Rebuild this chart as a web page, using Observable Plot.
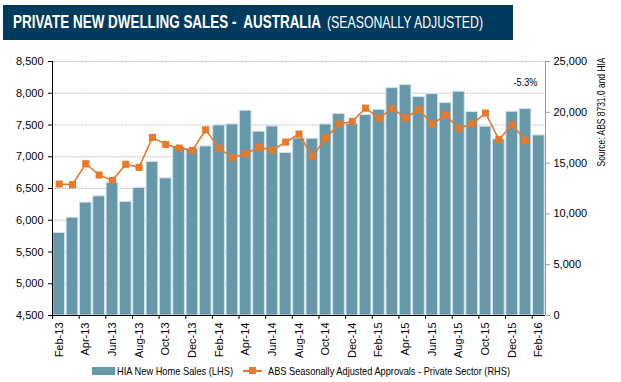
<!DOCTYPE html>
<html><head><meta charset="utf-8">
<script src="https://cdn.jsdelivr.net/npm/d3@7"></script>
<script src="https://cdn.jsdelivr.net/npm/@observablehq/plot@0.6"></script>
<style>
html,body{margin:0;padding:0;background:#fff;}
body{position:relative;width:621px;height:382px;overflow:hidden;font-family:"Liberation Sans",Arial,sans-serif;}
#banner{position:absolute;left:3px;top:5px;width:510px;height:35px;background:#003a5c;}
.tt{position:absolute;white-space:nowrap;color:#fff;line-height:19px;transform-origin:0 0;display:inline-block;}
#t1{left:10px;top:7px;font-size:19px;font-weight:bold;}
#t2{left:324px;top:8px;font-size:17px;}
#chart{position:absolute;left:0;top:45px;}
.lg{position:absolute;white-space:nowrap;font-size:11px;line-height:11px;color:#000;transform-origin:0 0;display:inline-block;}
#sw1{position:absolute;left:92px;top:367px;width:23px;height:8px;background:#6798a9;}
#sw2{position:absolute;left:243px;top:370px;width:19px;height:2px;background:#e8792a;}
#sw2m{position:absolute;left:249px;top:367px;width:7px;height:7px;background:#e8792a;}
</style></head><body>
<div id="banner"><span class="tt" id="t1">PRIVATE NEW DWELLING SALES -&nbsp; AUSTRALIA</span><span class="tt" id="t2">(SEASONALLY ADJUSTED)</span></div>
<div id="chart"></div>
<div id="sw1"></div><span class="lg" id="l1" style="left:117px;top:366px">HIA New Home Sales (LHS)</span>
<div id="sw2"></div><div id="sw2m"></div><span class="lg" id="l2" style="left:268px;top:366px">ABS Seasonally Adjusted Approvals - Private Sector (RHS)</span>
<script>
const months = ["Feb-13","Mar-13","Apr-13","May-13","Jun-13","Jul-13","Aug-13","Sep-13","Oct-13","Nov-13","Dec-13","Jan-14",
"Feb-14","Mar-14","Apr-14","May-14","Jun-14","Jul-14","Aug-14","Sep-14","Oct-14","Nov-14","Dec-14","Jan-15",
"Feb-15","Mar-15","Apr-15","May-15","Jun-15","Jul-15","Aug-15","Sep-15","Oct-15","Nov-15","Dec-15","Jan-16","Feb-16"];
const hiaSales = [5800,6040,6278,6377,6592,6288,6509,6918,6660,7153,7127,7163,7493,7509,7725,7394,7478,7059,7289,7284,
7509,7673,7515,7657,7740,8081,8128,7940,7987,7845,8024,7704,7473,7273,7709,7751,7336];
const absApprovals = [12940,12880,14940,13830,13300,14880,14580,17530,16840,16480,16250,18280,16450,15530,15930,16550,16290,17070,
17860,15660,17430,18840,19100,20410,19430,20380,19460,20280,18840,19730,18410,18870,19920,17330,18780,17200];
const leftTicks = [4500,5000,5500,6000,6500,7000,7500,8000,8500];
const rightTicks = [0,5000,10000,15000,20000,25000];
const tickMonths = ["Feb-13","Apr-13","Jun-13","Aug-13","Oct-13","Dec-13","Feb-14","Apr-14","Jun-14","Aug-14","Oct-14","Dec-14",
"Feb-15","Apr-15","Jun-15","Aug-15","Oct-15","Dec-15","Feb-16"];
const annotation = "-5.3%";
const sourceText = "Source: ABS 8731.0 and HIA";

const LEFT = [leftTicks[0], leftTicks[leftTicks.length-1]];
const RIGHT = [rightTicks[0], rightTicks[rightTicks.length-1]];
const toLeft = v => LEFT[0] + (v - RIGHT[0]) / (RIGHT[1] - RIGHT[0]) * (LEFT[1] - LEFT[0]);
const fromLeft = v => RIGHT[0] + (v - LEFT[0]) / (LEFT[1] - LEFT[0]) * (RIGHT[1] - RIGHT[0]);
const bars = months.map((m, i) => ({i, m, v: hiaSales[i]}));
const line = absApprovals.map((v, i) => ({i, v: toLeft(v)}));
const tickIdx = tickMonths.map(m => months.indexOf(m));
const fmt = d3.format(",");
const N = months.length;
const orange = "#e8792a";

const chart = Plot.plot({
  width: 621, height: 315,
  marginTop: 16, marginBottom: 45, marginLeft: 52, marginRight: 76,
  style: {fontFamily: "'Liberation Sans', Arial, sans-serif", fontSize: "11px", color: "#000", background: "transparent", overflow: "visible"},
  x: {type: "linear", domain: [0, N], axis: null},
  y: {domain: LEFT, axis: null},
  marks: [
    Plot.gridY(leftTicks.slice(1), {stroke: "#b8b8b8", strokeOpacity: 1, strokeDasharray: "1.5,1"}),
    Plot.rect(bars, {x1: "i", x2: d => d.i + 1, y1: LEFT[0], y2: "v", fill: "#6798a9", stroke: "#d3e3e8", strokeWidth: 1, insetLeft: 0.8, insetRight: 0.8}),
    Plot.line(line, {x: d => d.i + 0.5, y: "v", stroke: orange, strokeWidth: 1.6}),
    Plot.dot(line, {x: d => d.i + 0.5, y: "v", symbol: "square", r: 4, fill: orange, stroke: "none"}),
    Plot.ruleX([N], {stroke: "#9a9a9a", strokeWidth: 1}),
    Plot.ruleX([0], {stroke: "#000", strokeWidth: 1}),
    Plot.ruleY([LEFT[0]], {stroke: "#000", strokeWidth: 1}),
    Plot.axisY({anchor: "left", label: null, ticks: leftTicks, tickFormat: fmt, tickSize: 4, tickPadding: 5, stroke: "#000", fill: "#000"}),
    Plot.axisY({anchor: "right", label: null, ticks: rightTicks.map(toLeft), tickFormat: d => fmt(Math.round(fromLeft(d))), tickSize: 4, tickPadding: 4, stroke: "#9a9a9a", fill: "#000"}),
    Plot.axisX({label: null, ticks: tickIdx, tickSize: 4, tickFormat: () => "", stroke: "#000"}),
    Plot.axisX({label: null, ticks: tickIdx.map(i => i + 0.5), tickSize: 0, tickPadding: 7, tickRotate: -90, tickFormat: d => months[Math.floor(d)], fill: "#000"}),
    Plot.text([annotation], {frameAnchor: "top-right", dx: -8, dy: 17, textAnchor: "end", fontSize: 10, fill: "#000", className: "anno"}),
    Plot.text([sourceText], {frameAnchor: "top-right", dx: 52, dy: -4, rotate: -90, textAnchor: "end", fontSize: 11, fill: "#000", className: "src"})
  ]
});
document.getElementById("chart").appendChild(chart);

// condensed fonts of the original: fit text runs to the widths seen in the reference
function fitW(id, w) {
  const el = document.getElementById(id);
  const r = el.getBoundingClientRect().width;
  el.style.transform = `scaleX(${w / r})`;
}
fitW("t1", 308); fitW("t2", 156); fitW("l1", 116); fitW("l2", 242);
d3.select(chart).selectAll(".src text").attr("textLength", 109).attr("lengthAdjust", "spacingAndGlyphs");
d3.select(chart).selectAll(".anno text").attr("textLength", 24).attr("lengthAdjust", "spacingAndGlyphs");
</script>
</body></html>
